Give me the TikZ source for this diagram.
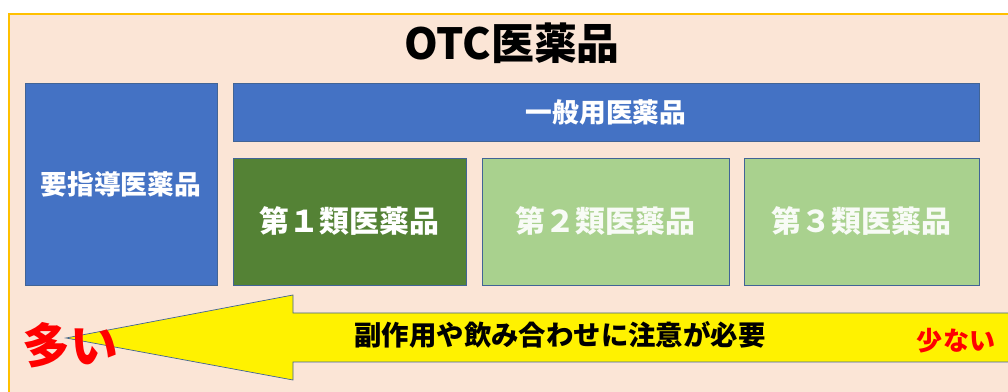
\documentclass[tikz,border=0pt]{standalone}
\usepackage{fontspec}
\newfontfamily\jpfont{Noto Sans CJK JP}
\usetikzlibrary{shapes.geometric}
\definecolor{bgcolor}{RGB}{251,229,214}
\definecolor{edgecolor}{RGB}{255,192,0}
\definecolor{bluecolor}{RGB}{68,114,196}
\definecolor{darkgreen}{RGB}{84,130,53}
\definecolor{lightgreen}{RGB}{169,209,142}
\definecolor{linecolor}{RGB}{65,100,150}

\begin{document}
\begin{tikzpicture}[x=0.025cm, y=-0.025cm,
    every node/.style={font=\jpfont\bfseries},
    catbox/.style={draw=linecolor, line width=0.5pt, text=white, inner sep=0pt, font=\jpfont\bfseries\fontsize{19}{22}\selectfont},
    classbox/.style={catbox, minimum height=3.175cm, font=\jpfont\bfseries\fontsize{21.3}{24}\selectfont}]
    \useasboundingbox (0,0) rectangle (1008,392);
    \clip (0,0) rectangle (1008,392);

    % background sheet
    \fill[color=bgcolor] (9,14) rectangle (1020,400);
    \draw[color=edgecolor, line width=0.8pt] (9,400) -- (9,14) -- (1020,14);

    \node (title) at (512,43) {\fontsize{30.5}{33}\selectfont OTC医薬品};

    % categories
    \node[catbox, fill=bluecolor, minimum width=4.8cm, minimum height=5.05cm] (yoshidou) at (121,184) {要指導医薬品};
    \node[catbox, fill=bluecolor, minimum width=18.65cm, minimum height=1.45cm] (ippan) at (606,112) {一般用医薬品};
    \node[classbox, fill=darkgreen, minimum width=5.825cm] (dai1) at (349.5,221.5) {第１類医薬品};
    \node[classbox, fill=lightgreen, minimum width=6.175cm, text=white!92!lightgreen] (dai2) at (605.5,221.5) {第２類医薬品};
    \node[classbox, fill=lightgreen, minimum width=5.875cm, text=white!92!lightgreen] (dai3) at (861.5,221.5) {第３類医薬品};

    % arrow
    \filldraw[fill=yellow, draw=linecolor, line width=0.5pt] (66,338) -- (293,295) -- (293,313) -- (1020,313) -- (1020,362) -- (293,362) -- (293,380) -- cycle;

    \node (chui) at (560,335) {\fontsize{19.5}{22}\selectfont 副作用や飲み合わせに注意が必要};
    \node[text=red] (ooi) at (70,345) {\fontsize{34}{38}\selectfont 多い};
    \node[text=red] (sukunai) at (956,341) {\fontsize{18.5}{21}\selectfont 少ない};
\end{tikzpicture}
\end{document}
